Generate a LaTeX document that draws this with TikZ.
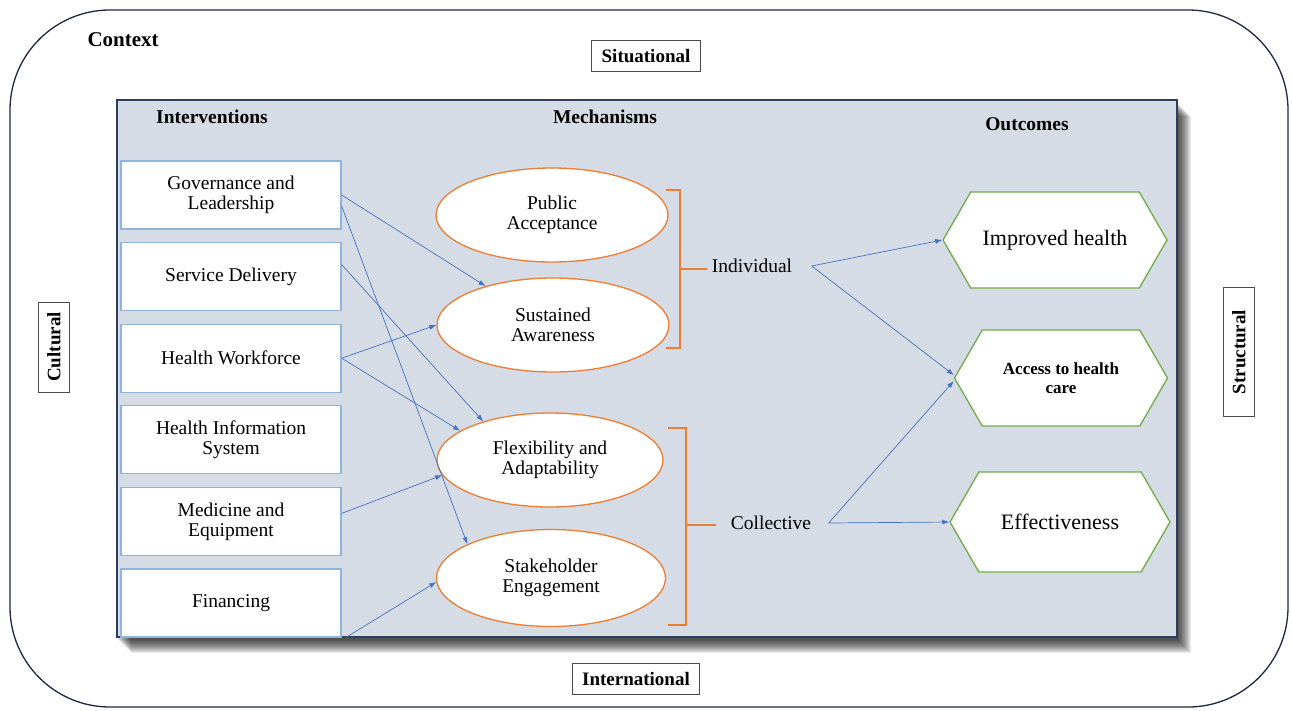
\documentclass[tikz,border=0pt]{standalone}
\usepackage{fontspec}
\setmainfont{Liberation Serif}
\usetikzlibrary{positioning, calc, shapes.geometric, shapes.symbols, arrows.meta}

\begin{document}
\begin{tikzpicture}[x=1pt, y=-1pt, font=\fontsize{19.5}{20}\selectfont, align=center, >={Latex[length=7pt,width=5pt]}]
        % Define colors
        \definecolor{panelgray}{RGB}{214,220,229}
        \definecolor{panelnavy}{RGB}{47,62,92}
        \definecolor{boxblue}{RGB}{143,180,222}
        \definecolor{mechorange}{RGB}{237,125,49}
        \definecolor{outgreen}{RGB}{112,173,71}
        \definecolor{linkblue}{RGB}{68,114,196}
        \definecolor{framenavy}{RGB}{30,40,64}

        \tikzset{
            ctxbox/.style={draw=black!70, fill=white, line width=0.9pt, font=\bfseries\fontsize{19}{21}\selectfont, minimum height=31, inner xsep=10},
            header/.style={font=\bfseries\fontsize{19.5}{21}\selectfont},
            intbox/.style={draw=boxblue, fill=white, line width=1.3pt, minimum width=220, minimum height=68},
            mechell/.style={ellipse, draw=mechorange, fill=white, line width=1.3pt, minimum width=232, minimum height=94},
            outhex/.style={signal, signal to=west and east, signal pointer angle=120, draw=outgreen, fill=white, line width=1.3pt, minimum height=96},
            link/.style={->, draw=linkblue, line width=0.7pt},
            bracket/.style={draw=mechorange, line width=2.6pt}
        }

        \useasboundingbox (0,0) rectangle (1292,710);

        % Context frame
        \draw[framenavy, line width=1.3pt, rounded corners=100] (10,10) rectangle (1288,707);
        \node[font=\bfseries\fontsize{21}{23}\selectfont, anchor=west] (ctx) at (84,40) {Context};
        \node[ctxbox] (situ) at (646,56) {Situational};
        \node[ctxbox] (inter) at (636,679) {International};
        \node[ctxbox, rotate=90, minimum width=90] (cult) at (54,347) {Cultural};
        \node[ctxbox, rotate=90, minimum width=129] (struc) at (1239,352) {Structural};

        % Panel with shadow
        \foreach \k in {1,...,14} {
            \fill[black, opacity=0.08] (117+\k, 100+2+\k) rectangle (1177+\k, 637+2+\k);
        }
        \node[draw=panelnavy, fill=panelgray, line width=1.5pt, minimum width=1060, minimum height=537, inner sep=0] (panel) at (647,368.5) {};

        % Headers
        \node[header] (hint) at (212,117) {Interventions};
        \node[header] (hmech) at (605,117) {Mechanisms};
        \node[header] (hout) at (1027,124) {Outcomes};

        % Interventions
        \node[intbox] (gov) at (231,195) {Governance and\\Leadership};
        \node[intbox, below=12.3pt of gov] (serv) {Service Delivery};
        \node[intbox, below=12.3pt of serv] (hw) {Health Workforce};
        \node[intbox, below=12.3pt of hw] (his) {Health Information\\System};
        \node[intbox, below=12.3pt of his] (med) {Medicine and\\Equipment};
        \node[intbox, below=12.3pt of med] (fin) {Financing};

        % Mechanisms
        \node[mechell] (pub) at (552,215) {Public\\Acceptance};
        \node[mechell] (sust) at (553,325) {Sustained\\Awareness};
        \node[mechell, minimum width=226] (flex) at (550,460) {Flexibility and\\Adaptability};
        \node[mechell, minimum width=229, minimum height=97] (stake) at (551,578) {Stakeholder\\Engagement};

        \draw[bracket] (666,190) -- (680,190) -- (680,348) -- (666,348);
        \draw[bracket] (680,269) -- (707,269);
        \draw[bracket] (668,428) -- (686,428) -- (686,625) -- (668,625);
        \draw[bracket] (686,525) -- (716,525);

        \node (ind) at (752,266) {Individual};
        \node (col) at (771,523) {Collective};

        % Outcomes
        \node[outhex, minimum width=224, font=\fontsize{22}{24}\selectfont] (imp) at (1055,240) {Improved health};
        \node[outhex, minimum width=213, font=\bfseries\fontsize{17}{19}\selectfont] (acc) at (1061,378) {Access to health\\care};
        \node[outhex, minimum width=220, minimum height=100, font=\fontsize{22}{24}\selectfont] (eff) at (1060,522) {Effectiveness};

        % Edges
        \draw[link] (gov.east) -- (sust.150);
        \draw[link] ([yshift=-11]gov.east) -- (stake.158);
        \draw[link] ([yshift=12]serv.east) -- (flex.150);
        \draw[link] (hw.east) -- (sust.west);
        \draw[link] (hw.east) -- (flex.162);
        \draw[link] ([yshift=8]med.east) -- (flex.188);
        \draw[link] ([xshift=4]fin.south east) -- (stake.182);

        \draw[link] ([xshift=16]ind.east) -- (imp.west);
        \draw[link] ([xshift=16]ind.east) -- ([yshift=3]acc.west);
        \draw[link] ([xshift=14]col.east) -- ([yshift=-3]acc.west);
        \draw[link] ([xshift=14]col.east) -- (eff.west);
    \end{tikzpicture}
\end{document}
